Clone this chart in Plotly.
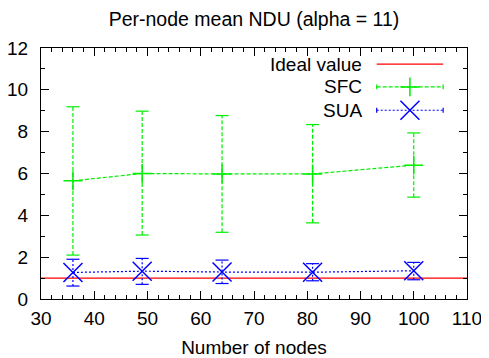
import plotly.graph_objects as go

# ---------------- data ----------------
nodes = [36, 49, 64, 81, 100]
ideal_value = 1.0
sfc_mean = [5.65, 6.00, 5.98, 5.98, 6.40]
sfc_hi = [9.19, 8.98, 8.77, 8.34, 7.94]
sfc_lo = [2.10, 3.06, 3.19, 3.64, 4.87]
sua_mean = [1.27, 1.33, 1.29, 1.28, 1.35]
sua_hi = [1.90, 1.94, 1.86, 1.69, 1.75]
sua_lo = [0.62, 0.70, 0.74, 0.87, 0.92]
series_names = ["Ideal value", "SFC", "SUA"]
title_text = "Per-node mean NDU (alpha = 11)"
x_title = "Number of nodes"

# ---------------- style ----------------
FONT = "Liberation Sans, Arial, Helvetica, sans-serif"
FS = 19
RED, GREEN, BLUE = "#ff0000", "#00ee00", "#0000ff"
SFC_DASH, SUA_DASH = "4px,2px", "2px,2px"

# page body has an 8px default margin: figure fills the rest of the window
W, H = 481, 350

fig = go.Figure()

fig.add_hline(y=ideal_value, line=dict(color=RED, width=1.2), layer="below")


def err_segments(xs, lo, hi):
    ex, ey = [], []
    for x, a, b in zip(xs, lo, hi):
        ex += [x, x, None]
        ey += [a, b, None]
    return ex, ey


for mean, lo, hi, color, dash, sym, size in [
    (sfc_mean, sfc_lo, sfc_hi, GREEN, SFC_DASH, "cross-thin", 13.5),
    (sua_mean, sua_lo, sua_hi, BLUE, SUA_DASH, "x-thin", 19),
]:
    ex, ey = err_segments(nodes, lo, hi)
    fig.add_trace(go.Scatter(x=ex, y=ey, mode="lines", showlegend=False,
                             line=dict(color=color, width=1.2, dash=dash),
                             hoverinfo="skip"))
    fig.add_trace(go.Scatter(x=nodes + nodes, y=lo + hi, mode="markers", showlegend=False,
                             marker=dict(symbol="line-ew", size=9.3,
                                         line=dict(color=color, width=1.2)),
                             hoverinfo="skip"))
    fig.add_trace(go.Scatter(x=nodes, y=mean, mode="lines+markers", showlegend=False,
                             line=dict(color=color, width=1.2, dash=dash),
                             marker=dict(symbol=sym, size=size,
                                         line=dict(color=color, width=1.5))))

# ---------------- gnuplot-style key (text left of sample) ----------------
key_x0, key_x1 = 0.788, 0.944
key_xm = (key_x0 + key_x1) / 2
key_rows = [0.936, 0.845, 0.752]
key_text_x = 0.758
key_styles = [
    (RED, None, None, None),
    (GREEN, SFC_DASH, "cross-thin", 13.5),
    (BLUE, SUA_DASH, "x-thin", 19),
]
for name, ky, (color, dash, sym, size) in zip(series_names, key_rows, key_styles):
    fig.add_trace(go.Scatter(x=[key_x0, key_x1], y=[ky, ky], mode="lines",
                             xaxis="x2", yaxis="y2", showlegend=False, hoverinfo="skip",
                             line=dict(color=color, width=1.2, dash=dash or "solid")))
    if sym:
        fig.add_trace(go.Scatter(x=[key_xm], y=[ky], mode="markers",
                                 xaxis="x2", yaxis="y2", showlegend=False, hoverinfo="skip",
                                 marker=dict(symbol=sym, size=size,
                                             line=dict(color=color, width=1.5))))
        fig.add_trace(go.Scatter(x=[key_x0, key_x1], y=[ky, ky], mode="markers",
                                 xaxis="x2", yaxis="y2", showlegend=False, hoverinfo="skip",
                                 marker=dict(symbol="line-ns", size=3.5,
                                             line=dict(color=color, width=1.2))))
    fig.add_annotation(x=key_text_x, y=ky, xref="paper", yref="paper", text=name,
                       showarrow=False, xanchor="right", yanchor="middle",
                       font=dict(family=FONT, size=FS, color="black"))

axis_common = dict(showline=True, linecolor="black", linewidth=1.2, mirror="ticks",
                   ticks="inside", ticklen=8, tickwidth=1, tickcolor="black",
                   showgrid=False, zeroline=False, automargin=False,
                   ticklabeloverflow="allow",
                   tickfont=dict(family=FONT, size=FS, color="black"))

fig.update_layout(
    width=W, height=H,
    margin=dict(l=33, r=22, t=40, b=59),
    paper_bgcolor="white", plot_bgcolor="white",
    showlegend=False,
    title=dict(text=title_text, x=0.5, xref="paper", xanchor="center",
               y=1 - 11.5 / H, yref="container", yanchor="middle",
               font=dict(family=FONT, size=19.5, color="black")),
    xaxis=dict(range=[30, 110], dtick=10, tick0=30,
               minor=dict(dtick=2, ticks="inside", ticklen=4, tickcolor="black"),
               ticklabelstandoff=2,
               title=dict(text=x_title, standoff=24,
                          font=dict(family=FONT, size=FS, color="black")),
               **axis_common),
    yaxis=dict(range=[0, 12], dtick=2, tick0=0,
               minor=dict(dtick=1, ticks="inside", ticklen=4, tickcolor="black"),
               ticklabelstandoff=8,
               **axis_common),
    xaxis2=dict(overlaying="x", range=[0, 1], visible=False, anchor="y2"),
    yaxis2=dict(overlaying="y", range=[0, 1], visible=False, anchor="x2"),
)

fig.write_html("out.html")
